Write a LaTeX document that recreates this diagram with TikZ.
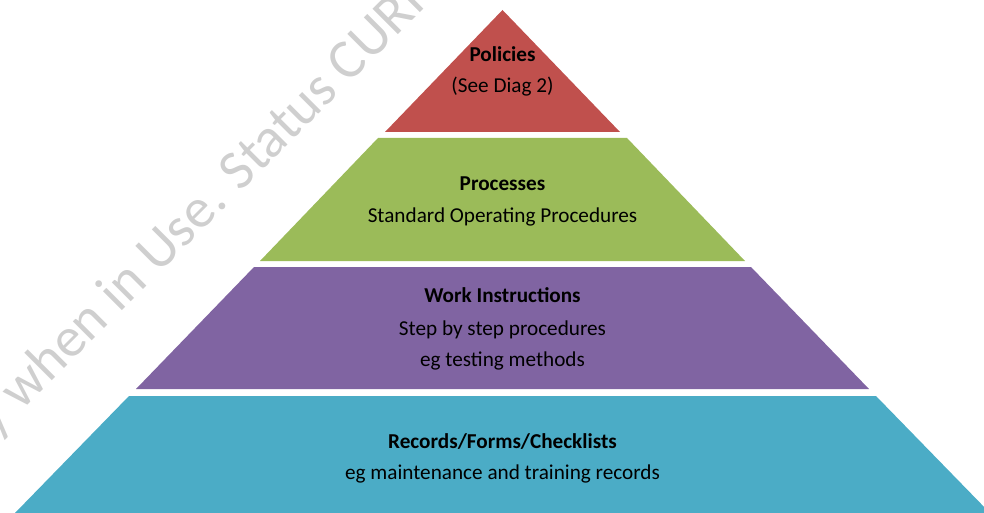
\documentclass[tikz,border=0pt]{standalone}
\usepackage{fontspec}
\setmainfont{Carlito}
\definecolor{polred}{HTML}{C0504D}
\definecolor{procgreen}{HTML}{9BBB59}
\definecolor{wipurple}{HTML}{8064A2}
\definecolor{reccyan}{HTML}{4BACC6}
\definecolor{wmgray}{HTML}{CFCFCF}
\begin{document}
\begin{tikzpicture}[x=1pt,y=-1pt,
  lbl/.style={anchor=base, inner sep=0pt, text=black, font=\fontsize{21.2}{25}\selectfont},
  ttl/.style={anchor=base, inner sep=0pt, text=black, font=\fontsize{21.2}{25}\selectfont\bfseries},
  wm/.style={anchor=base west, rotate=45, inner sep=0pt, text=wmgray, font=\fontsize{56}{60}\selectfont}]
\useasboundingbox (0,0) rectangle (984,513);
\begin{scope}
  \clip (0,0) rectangle (984,513);
  \node[wm] (watermark) at (-6,439) {y when in Use. Status CURRE};
  % layers
  \fill[polred] (502.5,10) -- (620,132) -- (385,132) -- cycle;
  \fill[procgreen] (378,138) -- (627,138) -- (745,261) -- (260,261) -- cycle;
  \fill[wipurple] (254,267) -- (751,267) -- (869,389) -- (136,389) -- cycle;
  \fill[reccyan] (129,396) -- (876,396) -- (990,513) -- (15,513) -- cycle;
\end{scope}
\node[ttl] (pol) at (502.5,62) {Policies};
\node[lbl] (polsub) at (502.5,93) {(See Diag 2)};
\node[ttl] (proc) at (502.5,190) {Processes};
\node[lbl] (procsub) at (502.5,222) {Standard Operating Procedures};
\node[ttl] (wi) at (502.5,302) {Work Instructions};
\node[lbl] (wisub1) at (502.5,335) {Step by step procedures};
\node[lbl] (wisub2) at (502.5,366) {eg testing methods};
\node[ttl] (rec) at (502.5,448) {Records/Forms/Checklists};
\node[lbl] (recsub) at (502.5,479) {eg maintenance and training records};
\end{tikzpicture}
\end{document}
